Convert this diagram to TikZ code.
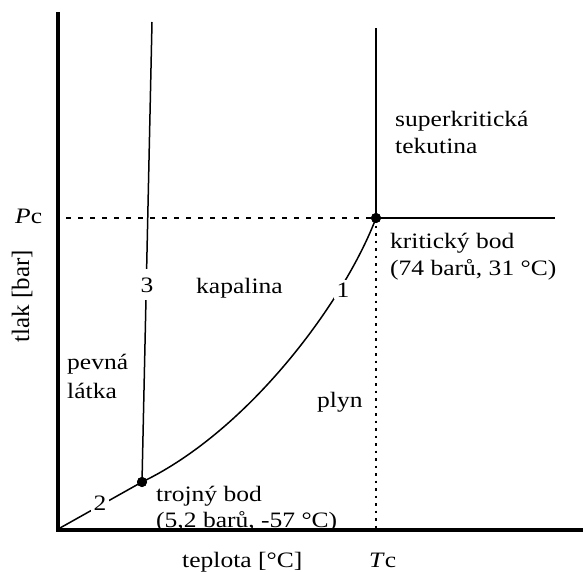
\documentclass[tikz,border=0pt]{standalone}
\usepackage{fontspec}
\setmainfont{Liberation Serif}
\begin{document}
\begin{tikzpicture}[x=1pt,y=-1pt,
  txt/.style={font=\fontsize{22}{27}\selectfont, inner sep=0pt, xscale=1.16, transform shape},
  lbl/.style={txt, fill=white, inner sep=2pt},
  curve/.style={line width=1.5pt, black},
  axis/.style={line width=4pt, black},
  pt/.style={circle, fill=black, minimum size=10pt, inner sep=0pt}]
\useasboundingbox (0,0) rectangle (583,572);
% axes
\coordinate (ytop) at (58,12);
\coordinate (orig) at (58,530);
\coordinate (xend) at (583,530);
\draw[axis] (ytop) -- (orig) -- (xend);
% points
\node[pt] (tp) at (142,482) {};
\node[pt] (cp) at (376,218) {};
\coordinate (o2) at (60,528);
\coordinate (top3) at (152,22);
\coordinate (topc) at (376,28);
\coordinate (rightc) at (555,218);
\coordinate (pcl) at (66,218);
\coordinate (tcb) at (376,530);
% dotted lines
\draw[line width=1.6pt, dash pattern=on 5pt off 7pt] (pcl) -- (cp.center);
\draw[line width=1.8pt, dash pattern=on 2.5pt off 5pt] (cp.center) -- (tcb);
% phase curves
\draw[curve] (o2) -- (tp.center);
\draw[curve] (tp.center) -- (top3);
\draw[curve] (tp.center) .. controls (250,430) and (345,300) .. (cp.center);
\draw[curve] (cp.center) -- (topc);
\draw[curve] (cp.center) -- (rightc);
% curve labels (gaps)
\node[lbl, anchor=base] (l1) at (343,297) {1};
\node[lbl, anchor=base] (l2) at (100,510) {2};
\node[lbl, anchor=base, inner ysep=8pt] (l3) at (147,292) {3};
\node[pt] at (tp) {};
\node[pt] at (cp) {};
% region texts
\node[txt, anchor=base west] (sk1) at (395,127) {superkritická};
\node[txt, anchor=base west] (sk2) at (395,154) {tekutina};
\node[txt, anchor=base west] (kb1) at (390,248) {kritický bod};
\node[txt, anchor=base west] (kb2) at (390,275) {(74 barů, 31 °C)};
\node[txt, anchor=base west] (tb1) at (156,501) {trojný bod};
\node[txt, anchor=base west] (tb2) at (156,527) {(5,2 barů, -57 °C)};
\node[txt, anchor=base west] (pv1) at (67,369) {pevná};
\node[txt, anchor=base west] (pv2) at (67,398) {látka};
\node[txt, anchor=base west] (kap) at (196,293) {kapalina};
\node[txt, anchor=base west] (ply) at (317,407) {plyn};
% axis labels
\node[txt, anchor=base west] (tep) at (182,567) {teplota [°C]};
\node[txt, anchor=base west] (tc) at (369,567) {\textit{T}c};
\node[txt, anchor=base west] (pc) at (15,223) {\textit{P}c};
\node[font=\fontsize{25}{30}\selectfont, inner sep=0pt, rotate=90] (tlak) at (22,296) {tlak [bar]};
\end{tikzpicture}
\end{document}
